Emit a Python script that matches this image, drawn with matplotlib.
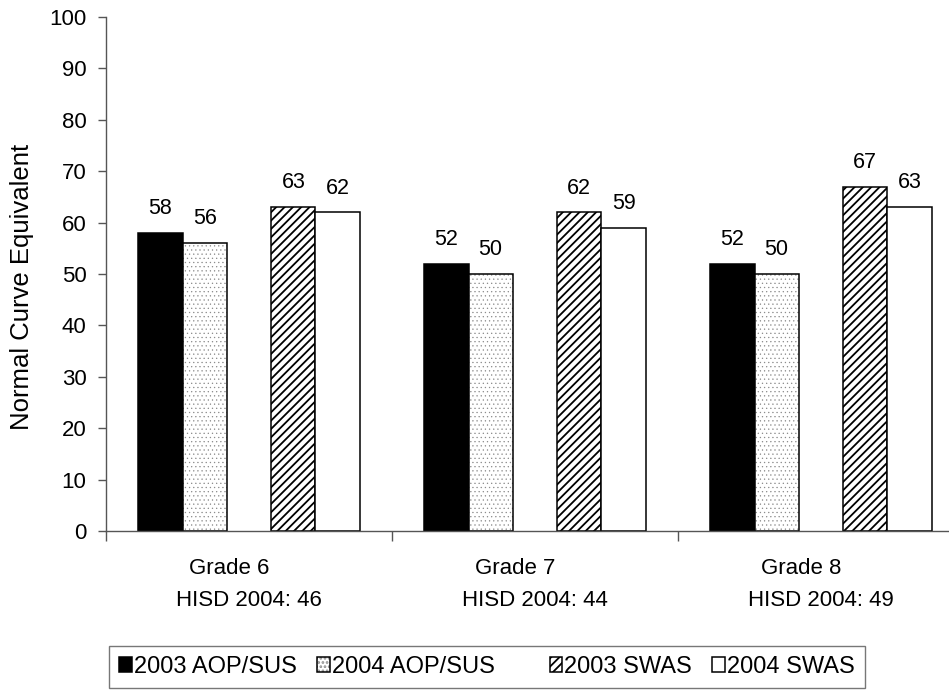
import matplotlib
matplotlib.use("Agg")
import matplotlib.pyplot as plt
import numpy as np

# Chart data
grades = ["Grade 6", "Grade 7", "Grade 8"]
hisd_2004 = [46, 44, 49]
aop_2003 = [58, 52, 52]
aop_2004 = [56, 50, 50]
swas_2003 = [63, 62, 67]
swas_2004 = [62, 59, 63]
series_names = ["2003 AOP/SUS", "2004 AOP/SUS", "2003 SWAS", "2004 SWAS"]

LABEL_FONT = 15.5   # value labels
TICK_FONT = 16
CAT_FONT = 16
YLABEL_FONT = 18.5
LEGEND_FONT = 17
AXIS_GREY = "#555555"

plt.rcParams["font.family"] = ["Liberation Sans", "DejaVu Sans"]

fig = plt.figure(figsize=(9.49, 6.90), dpi=100)
ax = fig.add_axes([106 / 949, 1 - 531 / 690, 858 / 949, 514 / 690])

x = np.arange(len(grades))
w = 0.155  # one slot of five; the middle slot is empty as in the source

b1 = ax.bar(x - 2 * w, aop_2003, w, color="black", edgecolor="black",
            linewidth=1.1)
# dotted bars: light grey dots first, then a black outline on top
plt.rcParams["hatch.linewidth"] = 0.4
b2_dots = ax.bar(x - w, aop_2004, w, color="white", edgecolor="#8a8a8a",
                 hatch="....", linewidth=0)
b2 = ax.bar(x - w, aop_2004, w, fill=False, edgecolor="black", linewidth=1.1)
plt.rcParams["hatch.linewidth"] = 1.3
b3 = ax.bar(x + w, swas_2003, w, color="white", edgecolor="black",
            hatch="////", linewidth=1.1)
b4 = ax.bar(x + 2 * w, swas_2004, w, color="white", edgecolor="black",
            linewidth=1.1)

for bars, vals in [(b1, aop_2003), (b2, aop_2004), (b3, swas_2003),
                   (b4, swas_2004)]:
    for rect, v in zip(bars, vals):
        ax.annotate(str(v), (rect.get_x() + rect.get_width() / 2, v),
                    xytext=(0, 17.5), textcoords="offset points",
                    ha="center", va="center", fontsize=LABEL_FONT)

ax.set_xlim(-0.5, 2.5)
ax.set_ylim(0, 100)
ax.set_yticks(np.arange(0, 101, 10))
ax.set_xticks([-0.5, 0.5, 1.5, 2.5])
ax.set_xticklabels([])
ax.tick_params(axis="y", length=6, width=1, color=AXIS_GREY, pad=8,
               labelsize=TICK_FONT)
ax.tick_params(axis="x", length=7, width=1, color=AXIS_GREY)
for side in ["top", "right"]:
    ax.spines[side].set_visible(False)
for side in ["left", "bottom"]:
    ax.spines[side].set_color(AXIS_GREY)
    ax.spines[side].set_linewidth(1)

# category labels, two lines each
trans = ax.get_xaxis_transform()
for i, (g, h) in enumerate(zip(grades, hisd_2004)):
    ax.text(i - 0.07, -37 / 514, g, transform=trans, ha="center",
            va="center", fontsize=CAT_FONT)
    ax.text(i, -69 / 514, "HISD 2004: %d" % h, transform=trans,
            ha="center", va="center", fontsize=CAT_FONT)

fig.text(22 / 949, 1 - 287 / 690, "Normal Curve Equivalent", rotation=90,
         ha="center", va="center", fontsize=YLABEL_FONT)

# legend, with a blank slot standing in for the empty series
blank = plt.Rectangle((0, 0), 1, 1, fill=False, linewidth=0, edgecolor="none")
handles = [b1, (b2_dots, b2), blank, b3, b4]
labels = [series_names[0], series_names[1], "", series_names[2],
          series_names[3]]
leg = fig.legend(handles, labels, loc="upper left",
                 bbox_to_anchor=(109 / 949, 1 - 646 / 690), ncol=5,
                 frameon=True, fancybox=False, shadow=False,
                 handlelength=0.55, handleheight=0.55, handletextpad=0.08,
                 columnspacing=0.85, borderpad=0.42, borderaxespad=0,
                 fontsize=LEGEND_FONT)
leg.get_frame().set_edgecolor(AXIS_GREY)
leg.get_frame().set_linewidth(1)

fig.savefig("out.png", dpi=100)
